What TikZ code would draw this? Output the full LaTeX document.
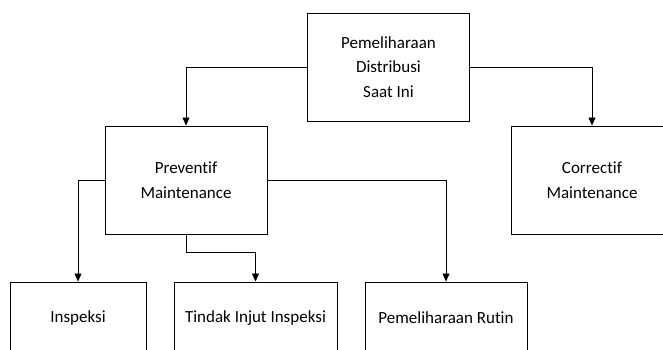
\documentclass[tikz,border=0pt]{standalone}
\usepackage{fontspec}
\setmainfont{Carlito}[Ligatures={NoCommon}]
\usetikzlibrary{arrows.meta, positioning}

\begin{document}
\begin{tikzpicture}[
    x=1pt, y=-1pt,
    node distance=27pt,
    font=\fontsize{17}{24.5}\selectfont,
    >={Triangle[length=8pt, width=7pt]},
    box/.style={rectangle, draw, line width=1pt, minimum width=162pt, minimum height=108pt, align=center, inner sep=0pt},
    leaf/.style={box, minimum height=72pt},
    link/.style={->, line width=0.6pt}
]
    \useasboundingbox (0,0) rectangle (663,349);

    % Levels
    \node[box] (pds) at (388.5,67) {Pemeliharaan\\Distribusi\\Saat Ini};
    \node[box] (prev) at (186,180) {Preventif\\Maintenance};
    \node[box, right=243pt of prev] (corr) {Correctif\\Maintenance};

    \node[leaf, minimum width=136pt] (insp) at (78,318) {Inspeksi};
    \node[leaf, minimum width=163pt, right=27pt of insp] (tindak) {Tindak Injut Inspeksi};
    \node[leaf, right=27pt of tindak] (rutin) {Pemeliharaan Rutin};

    % Connectors
    \draw[link] (pds.west) -| (prev.north);
    \draw[link] (pds.east) -| (corr.north);
    \draw[link] (prev.west) -| (insp.north);
    \draw[link] (prev.south) -- ++(0,18) -| (tindak.north);
    \draw[link] (prev.east) -| (rutin.north);

\end{tikzpicture}
\end{document}
